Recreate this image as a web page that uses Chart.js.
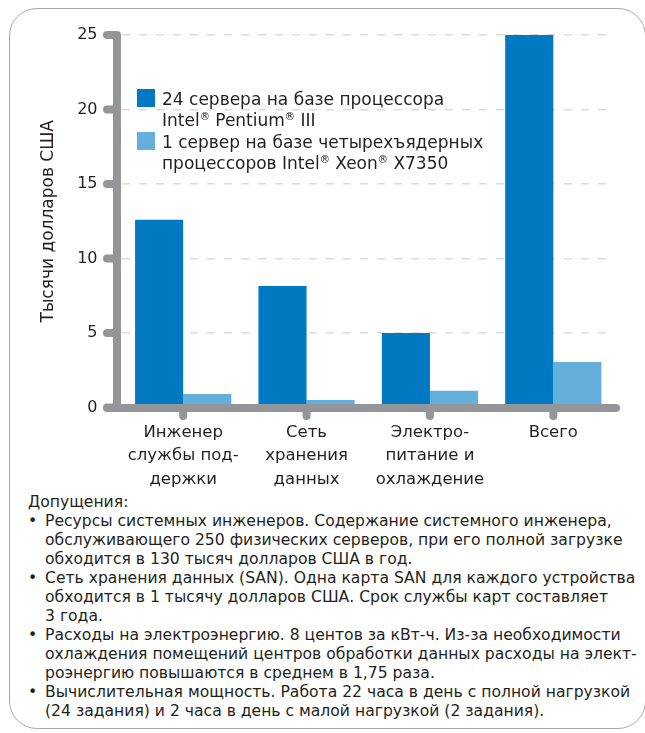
<!DOCTYPE html>
<html lang="ru">
<head>
<meta charset="utf-8">
<script src="https://cdn.jsdelivr.net/npm/chart.js@4"></script>
<style>
  html, body { margin: 0; padding: 0; background: #fff; }
  body { width: 645px; height: 733px; position: relative; overflow: hidden;
         font-family: 'DejaVu Sans', sans-serif; color: #231f20; }
  .frame { position: absolute; left: 9px; top: 8px; width: 637px; height: 721px;
           border: 1.5px solid #a7a9ac; border-radius: 28px; box-sizing: border-box; }
  .chart-box { position: absolute; left: 0; top: 0; width: 645px; height: 490px; }
  .legend { position: absolute; left: 137px; font-size: 17px; line-height: 21px; }
  .legend .sw { position: absolute; left: 0; top: 0; width: 18px; height: 18px; }
  .legend .txt { position: absolute; left: 25px; top: 0; white-space: nowrap; }
  .notes { position: absolute; left: 28px; top: 493px; font-size: 15.6px; line-height: 19px; white-space: nowrap; }
  .notes .item { position: relative; padding-left: 17px; }
  .notes .item::before { content: '\2022'; position: absolute; left: 0; top: 0; }
  sup { font-size: 0.6em; vertical-align: 0.55em; line-height: 0; }
</style>
</head>
<body>
<div class="frame"></div>
<div class="chart-box"><canvas id="chartCosts" width="645" height="490"></canvas></div>

<div class="legend" style="top:89px">
  <div class="sw" style="background:#0079c2"></div>
  <div class="txt">24 сервера на базе процессора<br>Intel<sup>®</sup> Pentium<sup>®</sup> III</div>
</div>
<div class="legend" style="top:132px">
  <div class="sw" style="background:#64afdb"></div>
  <div class="txt">1 сервер на базе четырехъядерных<br>процессоров Intel<sup>®</sup> Xeon<sup>®</sup> X7350</div>
</div>

<div class="notes">
  <div>Допущения:</div>
  <div class="item">Ресурсы системных инженеров. Содержание системного инженера,<br>обслуживающего 250 физических серверов, при его полной загрузке<br>обходится в 130 тысяч долларов США в год.</div>
  <div class="item">Сеть хранения данных (SAN). Одна карта SAN для каждого устройства<br>обходится в 1 тысячу долларов США. Срок службы карт составляет<br>3 года.</div>
  <div class="item">Расходы на электроэнергию. 8 центов за кВт-ч. Из-за необходимости<br>охлаждения помещений центров обработки данных расходы на элект-<br>роэнергию повышаются в среднем в 1,75 раза.</div>
  <div class="item">Вычислительная мощность. Работа 22 часа в день с полной нагрузкой<br>(24 задания) и 2 часа в день с малой нагрузкой (2 задания).</div>
</div>

<script>
// категории (подписи в несколько строк)
const categories = [
    ['Инженер', 'службы под-', 'держки'],
    ['Сеть', 'хранения', 'данных'],
    ['Электро-', 'питание и', 'охлаждение'],
    ['Всего']
];
// тысячи долларов США
const pentiumValues = [12.6, 8.15, 5.0, 25];
const xeonValues = [0.9, 0.5, 1.13, 3.05];
const seriesNames = ['24 сервера на базе процессора Intel Pentium III', '1 сервер на базе четырехъядерных процессоров Intel Xeon X7350'];
const yTicks = [0, 5, 10, 15, 20, 25];

const FONT = "'DejaVu Sans', sans-serif";
const AXIS_GRAY = '#939598';

// толстые серые оси с закругленными "зубцами"
const axisDecor = {
    id: 'axisDecor',
    afterDatasetsDraw(chart) {
        const { ctx, chartArea, scales } = chart;
        const yS = scales.y, xS = scales.x;
        const axX = chartArea.left - 4.5;
        const axY = yS.getPixelForValue(0) + 0.5;
        ctx.save();
        ctx.strokeStyle = AXIS_GRAY;
        ctx.lineWidth = 8;
        ctx.lineCap = 'round';
        ctx.beginPath();
        ctx.moveTo(axX, yS.getPixelForValue(25));
        ctx.lineTo(axX, axY);
        yTicks.forEach(v => {
            const py = yS.getPixelForValue(v);
            ctx.moveTo(axX - 10, py);
            ctx.lineTo(axX, py);
        });
        ctx.moveTo(axX - 10, axY);
        ctx.lineTo(chartArea.right + 1, axY);
        categories.forEach((c, i) => {
            const px = xS.getPixelForValue(i);
            ctx.moveTo(px, axY);
            ctx.lineTo(px, axY + 8);
        });
        ctx.stroke();
        ctx.restore();
    }
};

const chartCanvas = document.getElementById('chartCosts');
new Chart(chartCanvas.getContext('2d'), {
    type: 'bar',
    data: {
        labels: categories,
        datasets: [
            { label: seriesNames[0], data: pentiumValues, backgroundColor: '#0079c2' },
            { label: seriesNames[1], data: xeonValues, backgroundColor: '#64afdb' }
        ]
    },
    options: {
        responsive: false,
        animation: false,
        layout: { padding: { left: 0, right: 30, top: 35, bottom: 0 } },
        datasets: { bar: { barPercentage: 1, categoryPercentage: 0.78 } },
        plugins: { legend: { display: false }, tooltip: { enabled: false } },
        scales: {
            x: {
                grid: { display: false, drawTicks: false },
                border: { display: false },
                ticks: { color: '#231f20', padding: 13, maxRotation: 0, autoSkip: false,
                         font: { family: FONT, size: 16.5, lineHeight: 1.43 } },
                afterFit: s => { s.height = 82.5; }
            },
            y: {
                min: 0, max: 25,
                afterBuildTicks: s => { s.ticks = yTicks.map(v => ({ value: v })); },
                grid: { color: '#dcdcdc', lineWidth: 1.5, drawTicks: false },
                border: { display: false, dash: [8, 9] },
                ticks: { color: '#231f20', padding: 24, font: { family: FONT, size: 16 } },
                title: { display: true, text: 'Тысячи долларов США', color: '#231f20',
                         font: { family: FONT, size: 17 }, padding: { top: 38, bottom: 0 } },
                afterFit: s => { s.width = 121.5; }
            }
        }
    },
    plugins: [axisDecor]
});
</script>
</body>
</html>
